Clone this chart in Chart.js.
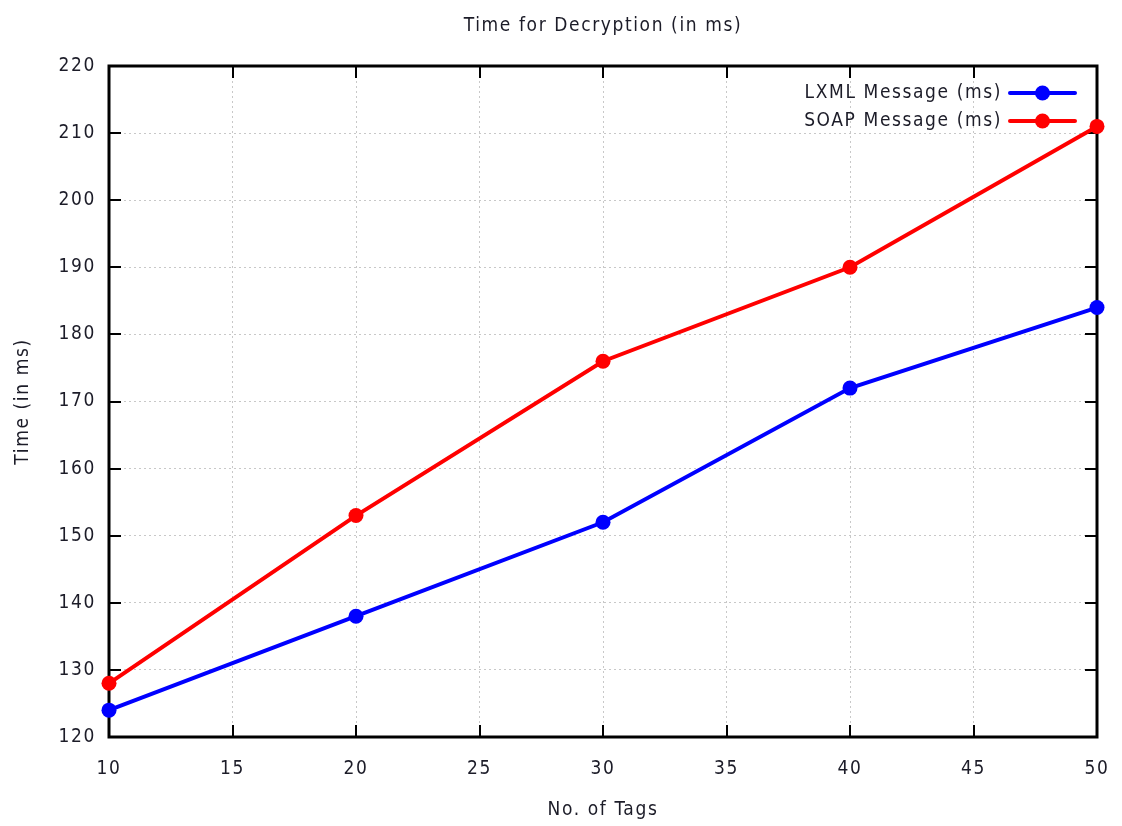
<!DOCTYPE html>
<html>
<head>
<meta charset="utf-8">
<title>Time for Decryption (in ms)</title>
<script src="https://cdn.jsdelivr.net/npm/chart.js@4.4.1/dist/chart.umd.min.js"></script>
<style>
  html, body { margin: 0; padding: 0; background: #ffffff; }
  #wrap { width: 1122px; height: 826px; }
</style>
</head>
<body>
<div id="wrap"><canvas id="chart" width="1122" height="826"></canvas></div>
<script>
// Number of tags in each test message
const tagCounts = [10, 20, 30, 40, 50];
// Decryption time (ms) per message format
const lxmlTimes = [124, 138, 152, 172, 184];
const soapTimes = [128, 153, 176, 190, 211];
const seriesNames = ['LXML Message (ms)', 'SOAP Message (ms)'];
const xTickValues = [10, 15, 20, 25, 30, 35, 40, 45, 50];
const yTickValues = [120, 130, 140, 150, 160, 170, 180, 190, 200, 210, 220];

const chartTitle = 'Time for Decryption (in ms)';
const xTitle = 'No. of Tags';
const yTitle = 'Time (in ms)';

const FONT_FAMILY = "'DejaVu Sans Condensed', 'DejaVu Sans', sans-serif";
const FONT_SIZE = 19;
const LETTER_SPACING = '1.6px';
const TEXT_COLOR = '#1c1c28';

function toPoints(xs, ys) {
  return xs.map((x, i) => ({ x: x, y: ys[i] }));
}

// Frame, inward tick marks, titles and an in-plot key
const framePlugin = {
  id: 'frame',
  beforeInit(chart) {
    chart.ctx.letterSpacing = LETTER_SPACING;
  },
  beforeDraw(chart) {
    chart.ctx.letterSpacing = LETTER_SPACING;
  },
  beforeDatasetsDraw(chart) {
    const { ctx, chartArea: a, scales } = chart;
    ctx.save();
    ctx.strokeStyle = '#000000';
    ctx.lineWidth = 2;
    ctx.lineCap = 'butt';
    const tl = 12;
    xTickValues.forEach(v => {
      const px = Math.round(scales.x.getPixelForValue(v));
      ctx.beginPath();
      ctx.moveTo(px, a.bottom); ctx.lineTo(px, a.bottom - tl);
      ctx.moveTo(px, a.top); ctx.lineTo(px, a.top + tl);
      ctx.stroke();
    });
    yTickValues.forEach(v => {
      const py = Math.round(scales.y.getPixelForValue(v));
      ctx.beginPath();
      ctx.moveTo(a.left, py); ctx.lineTo(a.left + tl, py);
      ctx.moveTo(a.right, py); ctx.lineTo(a.right - tl, py);
      ctx.stroke();
    });
    ctx.lineWidth = 3;
    ctx.strokeRect(a.left, a.top, a.right - a.left, a.bottom - a.top);
    ctx.restore();
  },
  afterDraw(chart) {
    const { ctx, chartArea: a } = chart;
    const cx = (a.left + a.right) / 2;
    const cy = (a.top + a.bottom) / 2;
    ctx.save();
    ctx.letterSpacing = LETTER_SPACING;
    ctx.fillStyle = TEXT_COLOR;
    ctx.font = FONT_SIZE + 'px ' + FONT_FAMILY;
    ctx.textAlign = 'center';
    ctx.textBaseline = 'middle';
    ctx.fillText(chartTitle, cx, 26);
    ctx.fillText(xTitle, cx, 810);
    ctx.save();
    ctx.translate(23, cy);
    ctx.rotate(-Math.PI / 2);
    ctx.fillText(yTitle, 0, 0);
    ctx.restore();

    // key: right-aligned labels with line + marker samples
    const datasets = chart.data.datasets;
    const rowY = [93, 121];
    const textRight = 1002;
    const sampleL = 1010, sampleR = 1075;
    datasets.forEach((ds, i) => {
      const y = rowY[i];
      ctx.textAlign = 'right';
      ctx.fillStyle = TEXT_COLOR;
      ctx.fillText(ds.label, textRight, y);
      ctx.strokeStyle = ds.borderColor;
      ctx.lineWidth = ds.borderWidth;
      ctx.lineCap = 'round';
      ctx.beginPath();
      ctx.moveTo(sampleL, y); ctx.lineTo(sampleR, y);
      ctx.stroke();
      ctx.fillStyle = ds.pointBackgroundColor;
      ctx.beginPath();
      ctx.arc((sampleL + sampleR) / 2, y, ds.pointRadius, 0, Math.PI * 2);
      ctx.fill();
    });
    ctx.restore();
  }
};

const ctx = document.getElementById('chart').getContext('2d');
new Chart(ctx, {
  type: 'line',
  data: {
    datasets: [
      {
        label: seriesNames[0],
        data: toPoints(tagCounts, lxmlTimes),
        borderColor: '#0000ff',
        backgroundColor: '#0000ff',
        pointBackgroundColor: '#0000ff',
        pointBorderColor: '#0000ff',
        borderWidth: 4,
        pointRadius: 7.5,
        pointBorderWidth: 0,
        tension: 0,
        clip: false
      },
      {
        label: seriesNames[1],
        data: toPoints(tagCounts, soapTimes),
        borderColor: '#ff0000',
        backgroundColor: '#ff0000',
        pointBackgroundColor: '#ff0000',
        pointBorderColor: '#ff0000',
        borderWidth: 4,
        pointRadius: 7.5,
        pointBorderWidth: 0,
        tension: 0,
        clip: false
      }
    ]
  },
  options: {
    responsive: false,
    animation: false,
    layout: { padding: { top: 66, right: 25, left: 0, bottom: 0 } },
    plugins: {
      legend: { display: false },
      title: { display: false },
      tooltip: { enabled: false }
    },
    scales: {
      x: {
        type: 'linear',
        min: 10,
        max: 50,
        afterFit(scale) {
          scale.height = 89;
          scale.paddingLeft = 0;
          scale.paddingRight = 0;
        },
        afterBuildTicks(scale) { scale.ticks = xTickValues.map(v => ({ value: v })); },
        grid: {
          drawTicks: false,
          color: '#c8c8c8',
          lineWidth: 1
        },
        border: { display: false, dash: [2, 3] },
        ticks: {
          padding: 21,
          color: TEXT_COLOR,
          font: { family: FONT_FAMILY, size: FONT_SIZE },
          maxRotation: 0,
          autoSkip: false
        }
      },
      y: {
        type: 'linear',
        min: 120,
        max: 220,
        afterFit(scale) {
          scale.width = 109;
          scale.paddingTop = 0;
          scale.paddingBottom = 0;
        },
        afterBuildTicks(scale) { scale.ticks = yTickValues.map(v => ({ value: v })); },
        grid: {
          drawTicks: false,
          color: '#c8c8c8',
          lineWidth: 1
        },
        border: { display: false, dash: [2, 3] },
        ticks: {
          padding: 13,
          color: TEXT_COLOR,
          font: { family: FONT_FAMILY, size: FONT_SIZE },
          autoSkip: false
        }
      }
    }
  },
  plugins: [framePlugin]
});
</script>
</body>
</html>
